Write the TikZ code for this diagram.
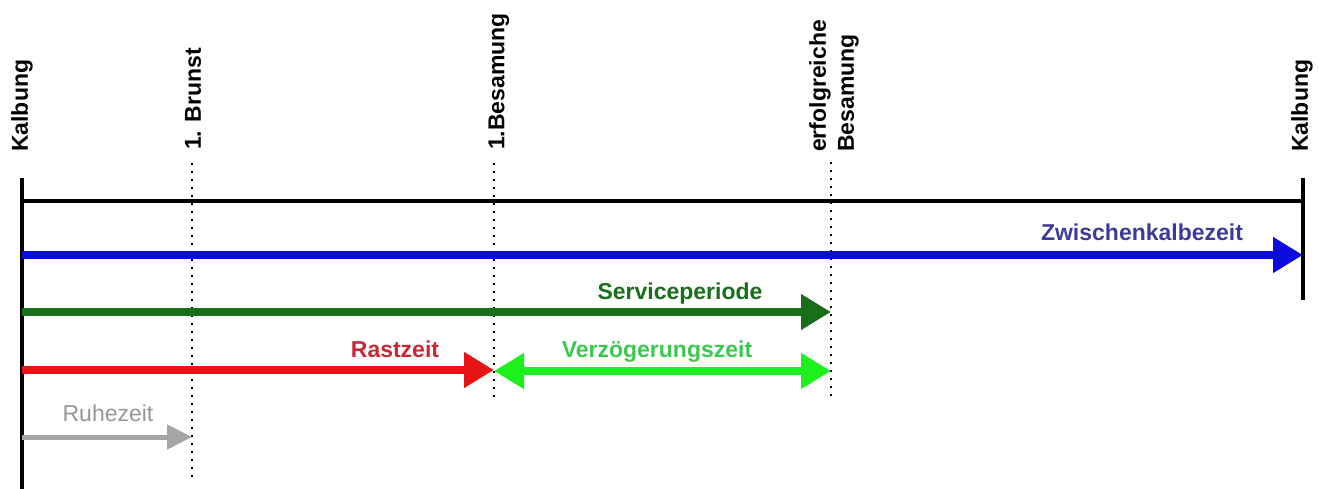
\documentclass[tikz,border=0pt]{standalone}
\usepackage{fontspec}
\setmainfont{Liberation Sans}
\usetikzlibrary{arrows.meta}
\definecolor{zkzBlue}{RGB}{10,10,225}
\definecolor{zkzText}{RGB}{60,60,150}
\definecolor{spGreen}{RGB}{25,110,25}
\definecolor{rzRed}{RGB}{230,20,20}
\definecolor{rzText}{RGB}{200,40,50}
\definecolor{vzGreen}{RGB}{30,240,30}
\definecolor{vzText}{RGB}{60,200,80}
\definecolor{ruGrey}{RGB}{165,165,165}
\definecolor{ruText}{RGB}{150,150,150}
\tikzset{% time line styles
  event/.style    = {rotate=90, anchor=west, inner sep=0pt, align=left,
    font=\bfseries\fontsize{23}{28}\selectfont},
  bar/.style      = {line width=4pt},
  marker/.style   = {line width=2pt, dash pattern=on 2pt off 6pt},
  period/.style   = {line width=8pt, -{Triangle[length=30pt,width=34pt]}},
  plabel/.style   = {anchor=base, inner sep=0pt, font=\bfseries\fontsize{23}{28}\selectfont},
}

\begin{document}
\begin{tikzpicture}[x=1pt, y=-1pt]
        \useasboundingbox (0,0) rectangle (1319,489);

        % Ereignisse
        \node[event] at (22,152) (KA) {Kalbung};
        \node[event] at (193,150) (BR) {1. Brunst};
        \node[event] at (499,150) (BE) {1.Besamung};
        \node[event] at (834,152) (EB) {erfolgreiche\\Besamung};
        \node[event] at (1302,152) (KE) {Kalbung};

        \coordinate (KAtop) at (22,178);
        \coordinate (KAbot) at (22,489);
        \coordinate (KEtop) at (1303,178);
        \coordinate (KEbot) at (1303,300);

        \coordinate (BRtop) at (192,163);
        \coordinate (BRbot) at (192,482);
        \coordinate (BEtop) at (494,163);
        \coordinate (BEbot) at (494,400);
        \coordinate (EBtop) at (831,162);
        \coordinate (EBbot) at (831,400);

        \draw[marker] (BRtop) -- (BRbot);
        \draw[marker] (BEtop) -- (BEbot);
        \draw[marker] (EBtop) -- (EBbot);

        \draw[bar] (KAtop) -- (KAbot);
        \draw[bar] (KEtop) -- (KEbot);
        \draw[bar] (22,201) coordinate (L0) -- (1303,201) coordinate (L1);

        % Zeitraeume
        \coordinate (ZKZa) at (22,255);
        \coordinate (ZKZb) at (1303,255);
        \draw[period, zkzBlue] (ZKZa) -- (ZKZb);
        \node[plabel, text=zkzText] at (1142,240) (ZKZ) {Zwischenkalbezeit};

        \coordinate (SPa) at (22,312);
        \coordinate (SPb) at (831,312);
        \draw[period, spGreen] (SPa) -- (SPb);
        \node[plabel, text=spGreen] at (680,299) (SP) {Serviceperiode};

        \coordinate (RZa) at (22,370);
        \coordinate (RZb) at (494,370);
        \draw[period, rzRed] (RZa) -- (RZb);
        \node[plabel, text=rzText] at (395,357) (RZ) {Rastzeit};

        \coordinate (VZa) at (494,371);
        \coordinate (VZb) at (831,371);
        \draw[period, vzGreen, {Triangle[length=30pt,width=34pt]}-{Triangle[length=30pt,width=34pt]}] (VZa) -- (VZb);
        \node[plabel, text=vzText] at (657,357) (VZ) {Verzögerungszeit};

        \coordinate (RUa) at (22,437);
        \coordinate (RUb) at (192,437);
        \draw[ruGrey, line width=5pt, -{Triangle[length=25pt,width=24pt]}] (RUa) -- (RUb);
        \node[plabel, font=\fontsize{23}{28}\selectfont, text=ruText] at (108,421) (RU) {Ruhezeit};

\end{tikzpicture}
\end{document}
